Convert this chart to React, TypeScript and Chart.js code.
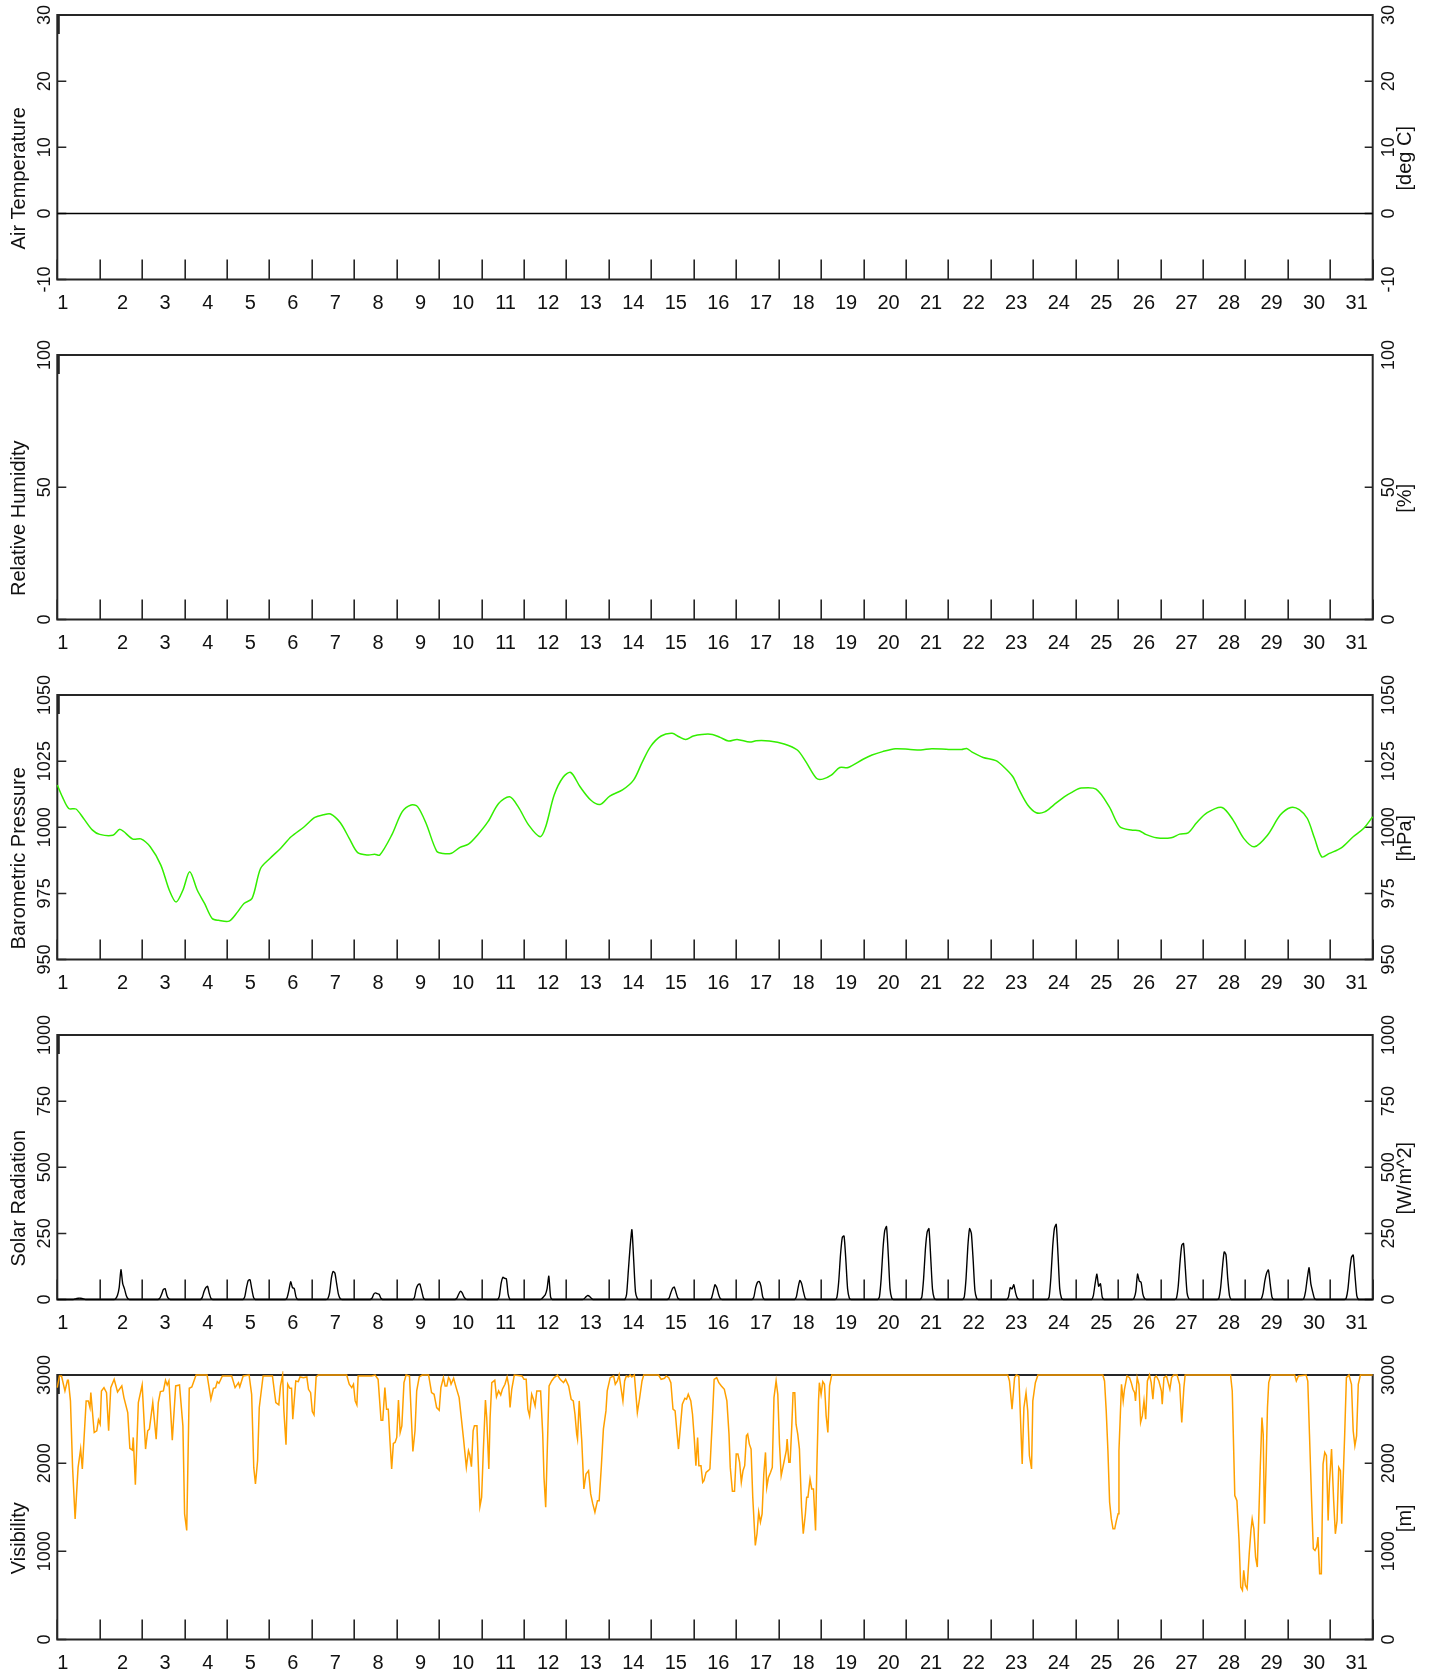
import React, { useEffect, useRef } from "react";
import { Chart, registerables } from "chart.js";

Chart.register(...registerables);

// ---------- data ----------
const dayLabels = ["1","2","3","4","5","6","7","8","9","10","11","12","13","14","15","16","17","18","19","20","21","22","23","24","25","26","27","28","29","30","31"];

const temperatureTicks = [-10, 0, 10, 20, 30];
const humidityTicks = [0, 50, 100];
const pressureTicks = [950, 975, 1000, 1025, 1050];
const solarTicks = [0, 250, 500, 750, 1000];
const visibilityTicks = [0, 1000, 2000, 3000];

// x = day offset from the start of the month, y = value
const temperaturePoints: [number, number][] = [[0, 0], [31, 0]];
const humidityPoints: [number, number][] = [];

const pressurePoints: [number, number][] = [
  [0,1016],[0.12,1011.5],[0.27,1007.1],[0.44,1006.9],[0.62,1003.3],[0.83,998.9],[1.0,997.3],[1.31,997.0],[1.48,999.2],[1.78,995.5],[1.97,995.6],[2.19,992.6],[2.44,985.7],[2.64,976.2],[2.80,971.7],[2.96,976.2],[3.12,983.2],[3.30,976.2],[3.47,971.2],[3.65,965.5],[3.80,964.8],[4.05,964.5],[4.25,968.0],[4.40,971.2],[4.59,973.1],[4.79,984.4],[5.01,988.2],[5.26,992.0],[5.51,996.4],[5.82,1000.2],[6.07,1003.7],[6.27,1004.7],[6.44,1005.0],[6.67,1001.7],[6.88,995.8],[7.08,990.4],[7.33,989.5],[7.48,989.8],[7.60,989.5],[7.88,997.0],[8.13,1005.9],[8.34,1008.4],[8.49,1007.8],[8.69,1001.5],[8.94,991.0],[9.09,990.1],[9.29,990.2],[9.49,992.4],[9.69,993.6],[9.90,997.0],[10.15,1002.1],[10.40,1009.0],[10.66,1011.5],[10.86,1007.8],[11.11,1000.8],[11.38,996.4],[11.51,1000.2],[11.71,1012.2],[11.92,1018.9],[12.10,1020.7],[12.32,1015.3],[12.57,1010.3],[12.79,1008.6],[13.02,1011.8],[13.32,1014.1],[13.58,1017.8],[13.78,1024.4],[13.98,1030.5],[14.23,1034.5],[14.49,1035.5],[14.65,1034.2],[14.81,1033.2],[14.99,1034.5],[15.19,1035.1],[15.44,1035.1],[15.62,1034.0],[15.82,1032.6],[16.02,1033.2],[16.32,1032.2],[16.47,1032.7],[16.78,1032.6],[17.13,1031.5],[17.44,1029.2],[17.64,1024.8],[17.89,1018.5],[18.04,1018.2],[18.24,1019.7],[18.44,1022.6],[18.64,1022.6],[18.99,1025.7],[19.20,1027.3],[19.45,1028.6],[19.75,1029.7],[20.10,1029.4],[20.35,1029.2],[20.61,1029.7],[21.01,1029.4],[21.31,1029.4],[21.43,1029.8],[21.56,1028.4],[21.82,1026.4],[22.12,1025.2],[22.32,1022.6],[22.52,1019.1],[22.67,1014.1],[22.87,1008.4],[23.07,1005.5],[23.27,1005.8],[23.48,1008.4],[23.73,1011.5],[23.93,1013.4],[24.13,1014.8],[24.48,1014.4],[24.79,1007.8],[25.04,1000.2],[25.34,998.9],[25.50,998.7],[25.65,997.3],[25.90,996.0],[26.25,996.0],[26.45,997.4],[26.65,997.9],[26.85,1001.7],[27.10,1005.5],[27.45,1007.5],[27.71,1002.7],[27.96,995.8],[28.21,992.6],[28.52,997.0],[28.82,1004.6],[29.07,1007.5],[29.27,1006.7],[29.46,1003.3],[29.63,995.8],[29.80,988.8],[29.98,990.1],[30.26,992.2],[30.54,996.4],[30.79,999.6],[31.0,1004.0]
];

// solar radiation: hourly values for hours 8..17 of each day (0 at night)
const solarHours = [8, 9, 10, 11, 12, 13, 14, 15, 16, 17];
const solarByDay: number[][] = [
  [0,0,2,4,5,5,4,2,0,0],
  [0,3,15,45,113,60,40,15,3,0],
  [0,0,5,20,38,41,15,3,0,0],
  [0,0,8,30,45,50,22,3,0,0],
  [0,0,10,45,72,75,40,8,0,0],
  [0,0,8,35,67,45,42,10,0,0],
  [0,3,25,80,106,100,60,20,3,0],
  [0,0,5,20,25,22,20,5,0,0],
  [0,0,8,40,55,59,35,8,0,0],
  [0,0,5,20,31,25,10,2,0,0],
  [0,0,12,60,84,80,78,20,0,0],
  [0,0,3,10,18,40,88,10,0,0],
  [0,0,3,10,15,12,5,0,0,0],
  [0,0,20,110,200,264,150,30,5,0],
  [0,0,5,25,42,47,25,5,0,0],
  [0,0,5,30,56,45,20,3,0,0],
  [0,0,10,45,65,68,50,10,0,0],
  [0,0,10,45,72,60,30,5,0,0],
  [0,10,70,170,235,240,150,40,5,0],
  [0,10,80,190,260,276,170,40,5,0],
  [0,10,80,190,255,268,160,40,5,0],
  [0,10,80,200,268,250,150,35,5,0],
  [0,0,10,45,40,56,25,5,0,0],
  [0,10,85,200,270,284,170,40,5,0],
  [0,0,15,60,96,50,60,10,0,0],
  [0,5,30,96,70,65,20,3,0,0],
  [0,5,50,140,205,212,120,25,3,0],
  [0,5,45,120,180,170,80,15,0,0],
  [0,3,25,70,100,112,60,10,0,0],
  [0,3,30,80,120,60,30,5,0,0],
  [0,5,40,110,160,168,90,15,0,0]
];

const visibilityPoints: [number, number][] = [
  [0.00,2857],[0.05,2989],[0.10,2989],[0.18,2819],[0.24,2940],[0.26,2940],[0.31,2706],[0.36,1952],[0.42,1368],[0.49,1952],[0.55,2160],[0.59,1934],[0.68,2706],[0.73,2706],[0.77,2631],[0.79,2800],[0.87,2348],[0.93,2367],[0.97,2491],[1.01,2442],[1.04,2819],[1.10,2857],[1.16,2800],[1.21,2367],[1.26,2857],[1.34,2951],[1.42,2808],[1.52,2876],[1.57,2744],[1.66,2574],[1.71,2167],[1.77,2148],[1.79,2292],[1.84,1756],[1.91,2687],[2.00,2887],[2.08,2160],[2.13,2367],[2.17,2386],[2.25,2687],[2.33,2273],[2.38,2687],[2.43,2812],[2.50,2819],[2.55,2940],[2.59,2887],[2.63,2932],[2.71,2261],[2.79,2876],[2.88,2887],[2.96,2423],[3.00,1425],[3.05,1236],[3.11,2849],[3.17,2864],[3.22,2932],[3.27,3000],[3.53,3000],[3.62,2725],[3.68,2849],[3.73,2857],[3.77,2925],[3.81,2906],[3.89,2989],[4.11,2989],[4.19,2857],[4.27,2913],[4.30,2864],[4.38,2989],[4.52,3000],[4.58,2781],[4.63,1952],[4.67,1764],[4.72,2028],[4.76,2631],[4.85,2989],[5.07,2989],[5.15,2687],[5.22,2661],[5.26,2876],[5.31,3000],[5.34,2593],[5.39,2209],[5.43,2895],[5.48,2849],[5.52,2849],[5.55,2499],[5.62,2932],[5.68,2925],[5.72,2978],[5.80,2970],[5.88,2978],[5.92,2838],[5.97,2800],[6.01,2585],[6.05,2548],[6.10,2978],[6.15,3000],[6.82,3000],[6.88,2895],[6.94,2857],[6.98,2895],[7.02,2706],[7.06,2661],[7.09,2989],[7.41,2989],[7.49,3000],[7.56,2951],[7.63,2487],[7.67,2487],[7.72,2857],[7.76,2612],[7.80,2612],[7.84,2254],
  [7.88,1935],[7.92,2224],[7.96,2235],[8.00,2292],[8.04,2717],[8.08,2348],[8.12,2423],[8.17,2913],[8.22,3000],[8.30,2989],[8.38,2133],[8.43,2367],[8.47,2819],[8.53,2978],[8.60,3000],[8.75,3000],[8.82,2800],[8.88,2781],[8.94,2631],[9.00,2600],[9.04,2857],[9.10,2970],[9.14,2876],[9.18,2876],[9.22,2970],[9.25,2951],[9.28,2895],[9.34,2963],[9.40,2857],[9.47,2744],[9.52,2518],[9.57,2292],[9.64,1952],[9.69,2141],[9.72,2096],[9.76,1960],[9.80,2367],[9.83,2423],[9.89,2423],[9.93,1877],[9.96,1508],[10.00,1613],[10.04,2141],[10.09,2717],[10.12,2518],[10.17,1934],[10.20,2518],[10.24,2913],[10.31,2940],[10.35,2751],[10.40,2819],[10.45,2774],[10.49,2838],[10.55,2895],[10.60,2978],[10.64,2876],[10.67,2631],[10.71,2838],[10.77,3000],[10.95,2989],[11.00,2951],[11.05,2951],[11.09,2612],[11.13,2536],[11.18,2781],[11.22,2725],[11.26,2650],[11.30,2819],[11.39,2819],[11.44,2329],[11.47,1839],[11.51,1500],[11.56,2367],[11.59,2876],[11.65,2932],[11.71,2970],[11.79,3000],[11.85,2951],[11.93,2913],[11.98,2951],[12.05,2876],[12.11,2725],[12.16,2706],[12.20,2555],[12.24,2329],[12.26,2273],[12.30,2706],[12.36,2254],[12.41,1707],[12.46,1877],[12.52,1915],[12.57,1651],[12.62,1538],[12.67,1444],[12.73,1575],[12.77,1575],[12.82,1952],[12.87,2386],[12.93,2593],[12.96,2819],[13.03,2970],[13.11,2989],[13.15,2895],[13.20,2932],[13.24,3000],[13.33,2706],[13.37,2932],[13.41,2989],[13.46,2978],[13.50,3000],[13.54,2978],[13.60,3000],[13.67,2574],[13.72,2725],[13.78,2932],[13.82,3000],[14.17,3000],[14.23,2951],[14.31,2963],[14.35,2989],[14.41,2970],[14.46,2913],[14.51,2612],[14.56,2593],[14.60,2367],[14.64,2160],[14.68,2386],[14.73,2668],[14.79,2736],[14.83,2725],[14.87,2781],[14.93,2706],[14.97,2555],[15.01,2292],[15.05,1971],[15.09,2292],[15.12,1971],[15.17,1971],[15.21,1783],[15.24,1801],[15.29,1896],[15.34,1915],[15.38,1934],[15.44,2518],[15.48,2951],[15.54,2970],
  [15.59,2913],[15.65,2876],[15.72,2838],[15.78,2706],[15.83,2329],[15.86,1952],[15.91,1681],[15.96,1681],[16.00,2103],[16.04,2103],[16.08,2009],[16.12,1783],[16.16,1915],[16.20,1971],[16.24,2310],[16.27,2329],[16.31,2216],[16.35,2160],[16.39,1613],[16.45,1067],[16.49,1199],[16.53,1444],[16.57,1331],[16.61,1425],[16.65,1877],[16.69,2122],[16.72,1726],[16.76,1839],[16.81,1896],[16.85,1952],[16.89,2744],[16.94,2932],[16.98,2781],[17.02,2216],[17.06,1858],[17.10,1952],[17.14,2047],[17.18,2141],[17.20,2273],[17.24,2009],[17.27,2009],[17.31,2423],[17.34,2800],[17.38,2800],[17.41,2442],[17.45,2329],[17.49,2160],[17.54,1500],[17.58,1199],[17.63,1425],[17.66,1613],[17.69,1613],[17.74,1820],[17.78,1707],[17.82,1707],[17.87,1236],[17.90,1952],[17.94,2706],[17.96,2913],[18.00,2781],[18.04,2925],[18.08,2895],[18.12,2536],[18.16,2348],[18.20,2876],[18.25,3000],[22.40,3000],[22.44,2932],[22.50,2612],[22.56,2970],[22.60,3000],[22.66,2989],[22.69,2631],[22.74,1990],[22.78,2631],[22.83,2800],[22.87,2593],[22.91,2084],[22.96,1934],[22.99,2706],[23.05,2913],[23.11,3000],
  [24.64,3000],[24.68,2932],[24.72,2593],[24.76,2141],[24.80,1557],[24.84,1368],[24.88,1255],[24.92,1255],[24.96,1349],[25.00,1425],[25.02,2141],[25.05,2518],[25.08,2895],[25.12,2706],[25.15,2838],[25.21,2989],[25.27,2970],[25.31,2913],[25.35,2838],[25.39,2800],[25.41,2706],[25.45,2970],[25.49,2895],[25.53,2461],[25.57,2536],[25.61,2706],[25.65,2499],[25.69,2932],[25.74,3000],[25.78,2913],[25.82,2725],[25.86,2970],[25.90,2989],[25.96,2932],[26.02,2819],[26.04,2668],[26.08,2970],[26.14,2989],[26.18,2913],[26.22,2838],[26.26,2970],[26.31,3000],[26.39,3000],[26.45,2895],[26.50,2461],[26.55,2857],[26.58,3000],[27.65,3000],[27.69,2819],[27.75,1632],[27.80,1575],[27.85,1123],[27.89,596],[27.93,558],[27.96,784],[28.00,615],[28.04,577],[28.09,972],[28.13,1236],[28.16,1368],[28.20,1255],[28.24,935],[28.28,822],[28.32,1462],[28.35,1952],[28.39,2518],[28.42,2329],[28.45,1312],[28.49,2028],[28.52,2631],[28.55,2913],[28.60,3000],[29.16,3000],[29.20,2932],[29.25,2989],[29.43,3000],[29.47,2932],[29.51,2329],[29.56,1575],[29.60,1029],[29.64,1010],[29.68,1048],[29.71,1161],[29.75,746],[29.79,746],[29.83,1990],[29.87,2122],[29.91,2084],[29.95,1349],[29.98,1764],[30.03,2160],[30.08,1575],[30.12,1199],[30.16,1349],[30.20,1952],[30.24,1915],[30.27,1312],[30.30,1764],[30.34,2329],[30.38,2970],[30.44,3000],[30.50,2895],[30.54,2367],[30.58,2197],[30.62,2310],[30.66,2895],[30.71,3000],[31.00,3000]
];

// ---------- layout constants ----------
const W = 1437;
const H = 320;
const PANEL_STEP = 340;
const CANVAS_SHIFT = 10;
const PAD = { left: 57.3, right: 64.3, top: 25, bottom: 30.5 };
const FONT = "'Liberation Sans', Arial, Helvetica, sans-serif";
const FRAME = "#262626";

type Panel = {
  title: string;
  unit: string;
  min: number;
  max: number;
  ticks: number[];
  points: { x: number; y: number }[];
  color: string;
  width: number;
  tension: number;
};

function toXY(p: [number, number][]) {
  return p.map(([x, y]) => ({ x, y }));
}

function solarSeries() {
  const pts: { x: number; y: number }[] = [{ x: 0, y: 0 }];
  solarByDay.forEach((row, d) => {
    row.forEach((v, i) => pts.push({ x: d + solarHours[i] / 24, y: v }));
  });
  pts.push({ x: 31, y: 0 });
  return pts;
}

const panels: Panel[] = [
  { title: "Air Temperature", unit: "[deg C]", min: -10, max: 30, ticks: temperatureTicks, points: toXY(temperaturePoints), color: "#000000", width: 1.5, tension: 0 },
  { title: "Relative Humidity", unit: "[%]", min: 0, max: 100, ticks: humidityTicks, points: toXY(humidityPoints), color: "#000000", width: 1.5, tension: 0 },
  { title: "Barometric Pressure", unit: "[hPa]", min: 950, max: 1050, ticks: pressureTicks, points: toXY(pressurePoints), color: "#33ee00", width: 1.5, tension: 0.3 },
  { title: "Solar Radiation", unit: "[W/m^2]", min: 0, max: 1000, ticks: solarTicks, points: solarSeries(), color: "#000000", width: 1.4, tension: 0.2 },
  { title: "Visibility", unit: "[m]", min: 0, max: 3000, ticks: visibilityTicks, points: toXY(visibilityPoints), color: "#ffa000", width: 1.5, tension: 0 },
];

function rotatedText(ctx: CanvasRenderingContext2D, text: string, x: number, y: number, font: string) {
  ctx.save();
  ctx.translate(x, y);
  ctx.rotate(-Math.PI / 2);
  ctx.font = font;
  ctx.textAlign = "center";
  ctx.textBaseline = "alphabetic";
  ctx.fillStyle = "#111";
  ctx.fillText(text, 0, 0);
  ctx.restore();
}

function makeAxisPlugin(panel: Panel) {
  return {
    id: "meteoAxes",
    beforeDatasetsDraw(chart: any) {
      const { ctx, chartArea } = chart;
      const { left, right, top, bottom } = chartArea;
      const xs = chart.scales.x;
      const ys = chart.scales.y;
      ctx.save();
      ctx.strokeStyle = FRAME;
      // frame
      ctx.lineWidth = 2;
      ctx.beginPath();
      ctx.moveTo(left, top); ctx.lineTo(right, top);
      ctx.moveTo(left, bottom); ctx.lineTo(right, bottom);
      ctx.moveTo(left, top - 1); ctx.lineTo(left, bottom + 1);
      ctx.moveTo(right, top - 1); ctx.lineTo(right, bottom + 1);
      ctx.stroke();
      // small mark at top-left
      ctx.beginPath();
      ctx.moveTo(left + 1.5, top); ctx.lineTo(left + 1.5, top + 19);
      ctx.stroke();
      // x ticks (day boundaries), pointing up into the plot
      ctx.lineWidth = 1.6;
      ctx.beginPath();
      for (let d = 0; d <= dayLabels.length; d++) {
        const px = Math.round(xs.getPixelForValue(d)) + 0.2;
        ctx.moveTo(px, bottom);
        ctx.lineTo(px, bottom - 20);
      }
      ctx.stroke();
      // y ticks inward, both sides
      ctx.lineWidth = 1.5;
      ctx.beginPath();
      panel.ticks.forEach((t) => {
        const py = ys.getPixelForValue(t);
        ctx.moveTo(left, py); ctx.lineTo(left + 9, py);
        ctx.moveTo(right, py); ctx.lineTo(right - 8, py);
      });
      ctx.stroke();
      ctx.restore();
    },
    afterDraw(chart: any) {
      const { ctx, chartArea } = chart;
      const { left, right, top, bottom } = chartArea;
      const xs = chart.scales.x;
      const ys = chart.scales.y;
      ctx.save();
      // x labels
      ctx.font = `20px ${FONT}`;
      ctx.fillStyle = "#111";
      ctx.textBaseline = "alphabetic";
      dayLabels.forEach((lab, i) => {
        const d = i + 1;
        if (d === 1) {
          ctx.textAlign = "left";
          ctx.fillText(lab, left, bottom + 29);
        } else {
          ctx.textAlign = "center";
          const px = xs.getPixelForValue(d - 0.5) + 1.5 + (d - 0.5) * 0.12;
          ctx.fillText(lab, px, bottom + 29);
        }
      });
      // y tick labels
      const tf = `18px ${FONT}`;
      panel.ticks.forEach((t) => {
        const py = ys.getPixelForValue(t);
        rotatedText(ctx, String(t), left - 7, py, tf);
        rotatedText(ctx, String(t), right + 21, py, tf);
      });
      // titles
      const mid = (top + bottom) / 2;
      rotatedText(ctx, panel.title, 25, mid + 31, `20px ${FONT}`);
      rotatedText(ctx, panel.unit, 1411, mid + 11, `20px ${FONT}`);
      ctx.restore();
    },
  };
}

function PanelChart({ panel, index }: { panel: Panel; index: number }) {
  const ref = useRef<HTMLCanvasElement | null>(null);
  useEffect(() => {
    if (!ref.current) return;
    const chart = new Chart(ref.current, {
      type: "line",
      data: {
        datasets: [
          {
            data: panel.points,
            borderColor: panel.color,
            borderWidth: panel.width,
            pointRadius: 0,
            tension: panel.tension,
            fill: false,
            clip: 4,
          } as any,
        ],
      },
      options: {
        animation: false,
        responsive: false,
        maintainAspectRatio: false,
        events: [],
        layout: { padding: PAD },
        scales: {
          x: { type: "linear", min: 0, max: 31, display: false },
          y: { type: "linear", min: panel.min, max: panel.max, display: false },
        },
        plugins: { legend: { display: false }, tooltip: { enabled: false } },
      },
      plugins: [makeAxisPlugin(panel)],
    });
    return () => chart.destroy();
  }, [panel]);
  return (
    <canvas
      ref={ref}
      width={W}
      height={H}
      style={{ position: "absolute", left: 0, top: index * PANEL_STEP - CANVAS_SHIFT, width: W, height: H, display: "block" }}
    />
  );
}

export default function App() {
  return (
    <div style={{ position: "absolute", left: 0, top: 0, width: W, height: 1670, overflow: "hidden", background: "#fff" }}>
      {panels.map((p, i) => (
        <PanelChart key={i} panel={p} index={i} />
      ))}
    </div>
  );
}
